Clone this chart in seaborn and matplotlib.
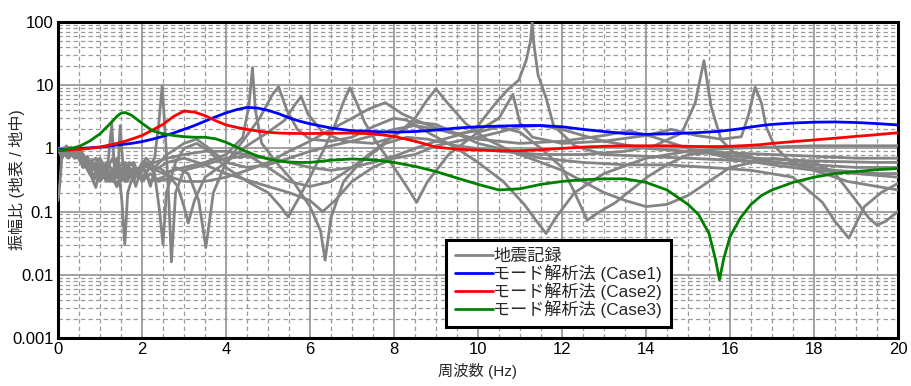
import matplotlib
matplotlib.use("Agg")
import matplotlib.pyplot as plt
import matplotlib.ticker as mticker
from matplotlib.lines import Line2D
import numpy as np
import pandas as pd
import seaborn as sns

# ---------------- data ----------------
freq_model = [0, 0.25, 0.5, 0.75, 1.0, 1.25, 1.4, 1.5, 1.6, 1.75,
              2.0, 2.25, 2.5, 2.75, 3.0, 3.25, 3.5, 3.75, 4.0, 4.25,
              4.5, 4.75, 5.0, 5.25, 5.5, 5.75, 6.0,
              6.5, 7.0, 7.5, 8.0, 8.5, 9.0, 9.5, 10.0,
              10.5, 11.0, 11.5, 12.0, 12.5, 13.0, 13.5, 14.0,
              14.5, 15.0, 15.25, 15.5, 15.65, 15.75, 15.85, 16.0,
              16.25, 16.5, 16.75, 17.0, 17.5, 18.0, 18.5, 19.0, 19.5, 20.0]
case1 = [0.95, 0.97, 1.0, 1.02, 1.05, 1.1, 1.13, 1.15, 1.17, 1.2,
         1.28, 1.4, 1.55, 1.75, 2.0, 2.3, 2.7, 3.15, 3.65, 4.1,
         4.45, 4.35, 4.0, 3.55, 3.05, 2.7, 2.45,
         2.1, 1.9, 1.85, 1.8, 1.85, 1.95, 2.1, 2.2,
         2.25, 2.3, 2.3, 2.2, 2.0, 1.85, 1.72, 1.67,
         1.7, 1.75, 1.78, 1.82, 1.85, 1.87, 1.9, 1.95,
         2.05, 2.18, 2.3, 2.4, 2.52, 2.6, 2.62, 2.57, 2.47, 2.35]
case2 = [0.92, 0.94, 0.97, 1.0, 1.05, 1.14, 1.2, 1.25, 1.3, 1.4,
         1.6, 1.95, 2.4, 3.2, 3.9, 3.75, 3.3, 2.75, 2.35, 2.15,
         2.0, 1.88, 1.8, 1.75, 1.73, 1.72, 1.72,
         1.73, 1.75, 1.7, 1.55, 1.3, 1.05, 0.97, 0.94,
         0.92, 0.92, 0.95, 1.0, 1.05, 1.08, 1.1, 1.1,
         1.1, 1.08, 1.07, 1.07, 1.07, 1.07, 1.07, 1.08,
         1.1, 1.12, 1.15, 1.2, 1.28, 1.36, 1.45, 1.55, 1.65, 1.77]
case3 = [0.92, 0.98, 1.07, 1.3, 1.7, 2.5, 3.2, 3.6, 3.7, 3.35,
         2.5, 1.9, 1.7, 1.6, 1.53, 1.5, 1.5, 1.42, 1.25, 1.05,
         0.88, 0.76, 0.68, 0.63, 0.61, 0.6, 0.6,
         0.65, 0.68, 0.66, 0.6, 0.52, 0.43, 0.34, 0.27,
         0.22, 0.23, 0.27, 0.3, 0.32, 0.33, 0.33, 0.29,
         0.22, 0.13, 0.09, 0.045, 0.018, 0.0083, 0.018, 0.04,
         0.08, 0.13, 0.18, 0.22, 0.29, 0.35, 0.4, 0.43, 0.46, 0.48]

rec1_f = [0, 0.1, 0.2, 0.3, 0.4, 0.5, 0.6, 0.7, 0.8, 0.9, 1.0, 1.1, 1.2, 1.3, 1.4, 1.5, 1.6, 1.7,
          1.8, 1.9, 2.0, 2.1, 2.2, 2.3, 2.4, 2.48, 2.56, 2.63, 2.7, 2.8, 3.0, 3.5, 4.0, 4.5, 5.0,
          5.5, 6.0, 6.5, 7.0, 7.5, 8.0, 8.5, 9.0, 9.5, 9.93, 10.4, 10.7, 10.97, 11.15, 11.25,
          11.29, 11.33, 11.43, 11.62, 11.8, 12.3, 13.0, 14.0, 15.0, 16.0, 17.0, 18.0, 19.0, 20.0]
rec1_a = [1.0, 0.7, 0.95, 0.85, 0.95, 0.75, 0.8, 0.55, 0.65, 0.4, 0.55, 0.35, 0.6, 0.4, 0.7, 0.45, 0.55, 0.35,
          0.5, 0.4, 0.6, 0.4, 0.55, 0.7, 2.5, 9.7, 1.5, 0.2, 0.016, 0.2, 0.45, 0.55, 0.7, 0.75, 0.7,
          0.6, 0.5, 0.45, 0.5, 0.6, 0.75, 1.0, 1.3, 1.6, 2.0, 5.0, 8.4, 12, 25, 50,
          100, 45, 14.5, 6.3, 2.3, 1.1, 0.8, 0.75, 0.7, 0.65, 0.6, 0.55, 0.5, 0.5]

rec2_f = [0, 0.05, 0.1, 0.2, 0.35, 0.5, 0.7, 0.9, 1.1, 1.3, 1.45, 1.52, 1.59, 1.66, 1.8, 2.0, 2.2,
          2.5, 3.0, 3.5, 4.0, 4.4, 4.55, 4.63, 4.7, 4.85, 5.2, 5.6, 6.0, 6.25, 6.36, 6.5, 6.8, 7.2,
          7.8, 8.3, 8.8, 9.5, 10.5, 11.5, 12.5, 13.5, 14.2, 14.85, 15.17, 15.38, 15.55, 15.79, 16.1,
          16.6, 17.5, 18.5, 19.5, 20.0]
rec2_a = [0.15, 0.3, 0.9, 1.0, 0.8, 0.9, 0.5, 0.35, 0.45, 0.3, 0.4, 0.15, 0.03, 0.2, 0.4, 0.35, 0.5,
          0.4, 0.5, 0.6, 0.8, 1.5, 5.0, 19.0, 4.0, 1.2, 0.6, 0.3, 0.12, 0.05, 0.017, 0.08, 0.3, 0.6,
          1.2, 1.5, 1.4, 1.1, 0.9, 0.8, 0.8, 0.9, 1.1, 1.75, 5.2, 24.5, 4.6, 1.36, 0.84,
          0.7, 0.65, 0.62, 0.6, 0.6]

rec3_f = [0, 0.2, 0.4, 0.6, 0.8, 0.9, 1.0, 1.15, 1.28, 1.35, 1.5, 1.7, 1.9, 2.1, 2.3, 2.42, 2.5,
          2.58, 2.8, 3.0, 3.3, 3.6, 4.0, 4.5, 5.0, 5.3, 5.48, 5.7, 6.0, 6.4, 6.6, 6.8, 6.95, 7.1,
          7.3, 7.6, 8.0, 8.3, 8.54, 8.8, 9.3, 10.0, 10.5, 11.0, 11.5, 12.0, 12.3, 12.6, 12.9, 13.26,
          14.05, 14.5, 15.0, 15.5, 16.5, 17.5, 18.5, 19.5, 20.0]
rec3_a = [1.0, 0.8, 0.9, 0.6, 0.35, 0.24, 0.5, 0.3, 2.5, 0.4, 0.3, 0.5, 0.35, 0.6, 0.4, 0.1, 0.03,
          0.2, 0.6, 1.0, 1.2, 0.9, 0.5, 0.3, 0.2, 0.12, 0.083, 0.15, 0.35, 1.2, 2.4, 5.5, 9.1, 5.5,
          2.6, 1.2, 0.5, 0.25, 0.14, 0.3, 0.8, 1.8, 2.2, 1.8, 1.0, 0.5, 0.2, 0.073, 0.1, 0.137,
          0.36, 0.55, 0.8, 0.85, 0.7, 0.55, 0.45, 0.4, 0.4]

rec4_f = [0, 0.1, 0.2, 0.3, 0.4, 0.5, 0.6, 0.7, 0.8, 0.85, 0.95, 1.05, 1.15, 1.25, 1.35, 1.42, 1.48,
          1.55, 1.65, 1.75, 1.85, 2.0, 2.2, 2.5, 2.8, 3.1, 3.35, 3.52, 3.7, 4.0, 4.4, 4.8, 5.1,
          5.25, 5.45, 5.7, 6.0, 6.5, 7.0, 7.5, 8.0, 8.3, 8.8, 9.5, 10.0, 10.6, 11.1, 11.4, 11.62,
          11.85, 12.3, 13.0, 14.0, 15.0, 16.0, 17.0, 18.0, 19.0, 20.0]
rec4_a = [1.0, 0.85, 1.1, 0.9, 0.7, 0.85, 0.5, 0.7, 0.4, 0.3, 0.5, 0.35, 0.6, 0.3, 0.5, 0.35, 2.3,
          0.5, 0.3, 0.45, 0.25, 0.5, 0.3, 0.35, 0.5, 0.4, 0.15, 0.027, 0.2, 0.6, 1.3, 3.0, 7.0,
          9.5, 4.0, 2.0, 1.4, 1.3, 1.5, 2.2, 3.0, 2.8, 1.8, 1.0, 0.6, 0.3, 0.13, 0.07, 0.045,
          0.08, 0.2, 0.4, 0.7, 0.9, 1.0, 1.05, 1.1, 1.1, 1.1]

rec5_f = [0, 0.1, 0.2, 0.3, 0.4, 0.5, 0.6, 0.7, 0.8, 0.9, 1.0, 1.1, 1.2, 1.3, 1.4, 1.5, 1.6, 1.7,
          1.8, 1.9, 2.0, 2.1, 2.2, 2.3, 2.4, 2.6, 2.85, 3.0, 3.1, 3.25, 3.5, 4.0, 4.5, 5.0, 5.4,
          5.65, 5.79, 5.95, 6.3, 6.8, 7.5, 8.0, 8.5, 8.8, 9.0, 9.3, 9.7, 10.2, 10.8, 11.5, 12.5,
          13.5, 14.5, 15.5, 16.5, 17.5, 18.2, 18.5, 18.83, 19.2, 19.6, 20.0]
rec5_a = [0.9, 1.0, 0.8, 1.05, 0.75, 0.9, 0.6, 0.75, 0.45, 0.6, 0.35, 0.5, 0.3, 0.45, 0.25, 0.4, 0.3, 0.5,
          0.3, 0.45, 0.3, 0.4, 0.25, 0.45, 0.5, 0.4, 0.25, 0.12, 0.066, 0.15, 0.35, 0.6, 1.1, 1.8, 2.8,
          5.0, 6.6, 3.5, 1.8, 1.3, 1.2, 1.5, 3.0, 6.0, 8.7, 5.0, 2.5, 1.4, 0.9, 0.7, 0.6,
          0.55, 0.55, 0.5, 0.45, 0.35, 0.14, 0.07, 0.038, 0.12, 0.2, 0.28]

rec6_f = [0, 0.25, 0.5, 0.7, 0.9, 1.1, 1.3, 1.5, 1.7, 1.9, 2.1, 2.3, 2.6, 3.0, 3.3, 3.6, 4.0, 4.5,
          5.0, 5.5, 6.0, 6.5, 7.0, 7.5, 8.0, 8.5, 9.0, 9.5, 10.0, 10.5, 10.83, 11.0, 11.3, 12.0,
          13.0, 14.0, 14.6, 15.2, 15.8, 16.27, 16.43, 16.6, 16.75, 16.86, 17.07, 17.4, 18.0, 18.8,
          19.5, 20.0]
rec6_a = [1.0, 0.7, 1.1, 0.55, 0.7, 0.4, 0.7, 0.35, 0.6, 0.45, 0.7, 0.5, 0.8, 1.2, 1.4, 1.0, 0.6, 0.5,
          0.55, 0.7, 0.9, 1.1, 1.3, 1.6, 2.0, 2.3, 2.0, 1.7, 1.9, 3.0, 7.2, 2.5, 1.5, 1.2,
          1.3, 1.6, 2.0, 1.6, 1.4, 1.53, 3.2, 9.3, 5.2, 2.2, 1.06, 0.65, 0.45, 0.3,
          0.25, 0.22]

rec7_f = [0, 0.2, 0.4, 0.6, 0.8, 1.0, 1.2, 1.4, 1.6, 1.8, 2.0, 2.2, 2.4, 2.7, 3.0, 3.5, 4.0, 4.5,
          5.0, 5.5, 6.0, 6.5, 7.0, 7.4, 7.79, 8.2, 8.7, 9.3, 10.0, 11.0, 12.0, 13.0, 13.6, 14.2,
          15.0, 16.0, 17.0, 18.0, 19.0, 20.0]
rec7_a = [0.95, 1.05, 0.9, 0.5, 0.6, 0.3, 0.45, 0.25, 0.5, 0.6, 0.3, 0.4, 0.3, 0.35, 0.3, 0.3, 0.35, 0.45,
          0.6, 0.9, 1.3, 2.0, 3.0, 4.2, 5.3, 3.5, 2.5, 1.8, 1.4, 1.2, 1.3, 1.6, 1.9, 1.5,
          1.0, 0.7, 0.55, 0.45, 0.4, 0.35]

rec8_f = [0, 0.2, 0.4, 0.6, 0.8, 1.0, 1.2, 1.4, 1.6, 1.8, 2.0, 2.3, 2.6, 3.0, 3.5, 4.0, 5.0, 5.5,
          6.0, 6.3, 6.6, 7.0, 7.5, 8.0, 8.5, 9.0, 9.5, 10.0, 10.5, 11.0, 11.5, 12.0, 12.5, 13.0,
          14.0, 15.0, 16.0, 17.0, 18.0, 19.0, 20.0]
rec8_a = [0.9, 0.95, 0.7, 0.8, 0.45, 0.6, 0.35, 0.55, 0.3, 0.4, 0.55, 0.45, 0.6, 0.7, 0.55, 0.4, 0.25, 0.2,
          0.15, 0.1, 0.15, 0.3, 0.5, 0.7, 0.8, 1.1, 1.3, 1.5, 1.8, 2.2, 2.3, 2.0, 1.6, 1.3,
          1.0, 0.9, 0.85, 0.8, 0.75, 0.7, 0.7]

rec9_f = [0, 0.2, 0.4, 0.6, 0.8, 1.0, 1.2, 1.4, 1.6, 1.8, 2.0, 2.3, 2.6, 3.0, 3.5, 4.0, 4.5, 5.0,
          5.5, 6.0, 6.5, 7.0, 7.5, 8.0, 8.5, 9.0, 9.5, 10.0, 10.5, 11.0, 11.5, 12.0, 12.5, 13.0,
          13.5, 14.0, 14.5, 15.0, 15.5, 16.0, 17.0, 18.0, 18.5, 19.0, 19.3, 19.5, 19.7, 20.0]
rec9_a = [1.0, 0.9, 1.0, 0.65, 0.5, 0.7, 0.4, 0.5, 0.6, 0.35, 0.5, 0.6, 0.7, 0.8, 0.9, 0.9, 0.8, 0.5,
          0.3, 0.25, 0.3, 0.5, 0.9, 1.6, 2.6, 2.4, 1.7, 1.2, 1.0, 0.8, 0.6, 0.45, 0.3, 0.2,
          0.15, 0.12, 0.13, 0.18, 0.3, 0.5, 0.7, 0.6, 0.4, 0.15, 0.08, 0.061, 0.07, 0.1]

records = [(rec1_f, rec1_a), (rec2_f, rec2_a), (rec3_f, rec3_a), (rec4_f, rec4_a),
           (rec5_f, rec5_a), (rec6_f, rec6_a), (rec7_f, rec7_a), (rec8_f, rec8_a),
           (rec9_f, rec9_a)]

legend_labels = ["地震記録", "モード解析法 (Case1)", "モード解析法 (Case2)", "モード解析法 (Case3)"]
x_ticks = [0, 2, 4, 6, 8, 10, 12, 14, 16, 18, 20]
y_ticks = [0.001, 0.01, 0.1, 1, 10, 100]
y_tick_labels = ["0.001", "0.01", "0.1", "1", "10", "100"]

# ---------------- styling ----------------
sns.set_theme(style="white")
plt.rcParams["font.family"] = ["Liberation Sans", "Noto Sans CJK JP", "DejaVu Sans"]

fig = plt.figure(figsize=(9.11, 3.86), dpi=100)
ax = fig.add_axes([58 / 911, (386 - 338) / 386, (898 - 58) / 911, (338 - 22) / 386])

rec_df = pd.concat(
    [pd.DataFrame({"f": f, "a": a, "rec": i}) for i, (f, a) in enumerate(records)],
    ignore_index=True)
sns.lineplot(data=rec_df, x="f", y="a", units="rec", estimator=None, sort=False,
             color="#848484", linewidth=2.0, ax=ax, zorder=3, legend=False)

model_df = pd.DataFrame({"f": freq_model, "c1": case1, "c2": case2, "c3": case3})
for col, colr in [("c1", "#0000ff"), ("c2", "#ff0000"), ("c3", "#008000")]:
    sns.lineplot(data=model_df, x="f", y=col, color=colr, linewidth=2.0, ax=ax,
                 zorder=4, legend=False)

ax.set_yscale("log")
ax.set_xlim(0, 20)
ax.set_ylim(0.001, 100)
ax.set_xticks(x_ticks)
ax.set_xticklabels([str(t) for t in x_ticks])
ax.xaxis.set_minor_locator(mticker.MultipleLocator(0.5))
ax.yaxis.set_major_locator(mticker.FixedLocator(y_ticks))
ax.yaxis.set_major_formatter(mticker.FixedFormatter(y_tick_labels))
ax.yaxis.set_minor_locator(mticker.LogLocator(base=10, subs=np.arange(2, 10)))
ax.yaxis.set_minor_formatter(mticker.NullFormatter())

ax.grid(which="major", color="#9a9a9a", linewidth=1.3, linestyle="-", zorder=1)
ax.grid(which="minor", color="#9a9a9a", linewidth=0.9, linestyle=(0, (3.5, 2.5)), zorder=1)
ax.set_axisbelow(True)

ax.tick_params(axis="both", which="both", length=0, labelsize=12, pad=3, colors="black")
for s in ax.spines.values():
    s.set_color("black")
    s.set_linewidth(2.2)

ax.set_xlabel("周波数 (Hz)", fontsize=11, labelpad=4)
ax.set_ylabel("振幅比 (地表 / 地中)", fontsize=11.5)
ax.yaxis.set_label_coords((25 - 58) / 840, 0.5)

handles = [Line2D([], [], color=c, linewidth=2.0) for c in
           ["#848484", "#0000ff", "#ff0000", "#008000"]]
leg = ax.legend(handles, legend_labels, loc="upper left",
                bbox_to_anchor=((446 - 58) / 840, (338 - 240) / 316),
                fontsize=12.3, frameon=True, fancybox=False, framealpha=1,
                handlelength=2.2, handletextpad=0.0, labelspacing=0.0,
                borderpad=0.55, borderaxespad=0)
leg.get_frame().set_edgecolor("black")
leg.get_frame().set_linewidth(2.2)
leg.set_zorder(10)

fig.savefig("out.png", dpi=100)
